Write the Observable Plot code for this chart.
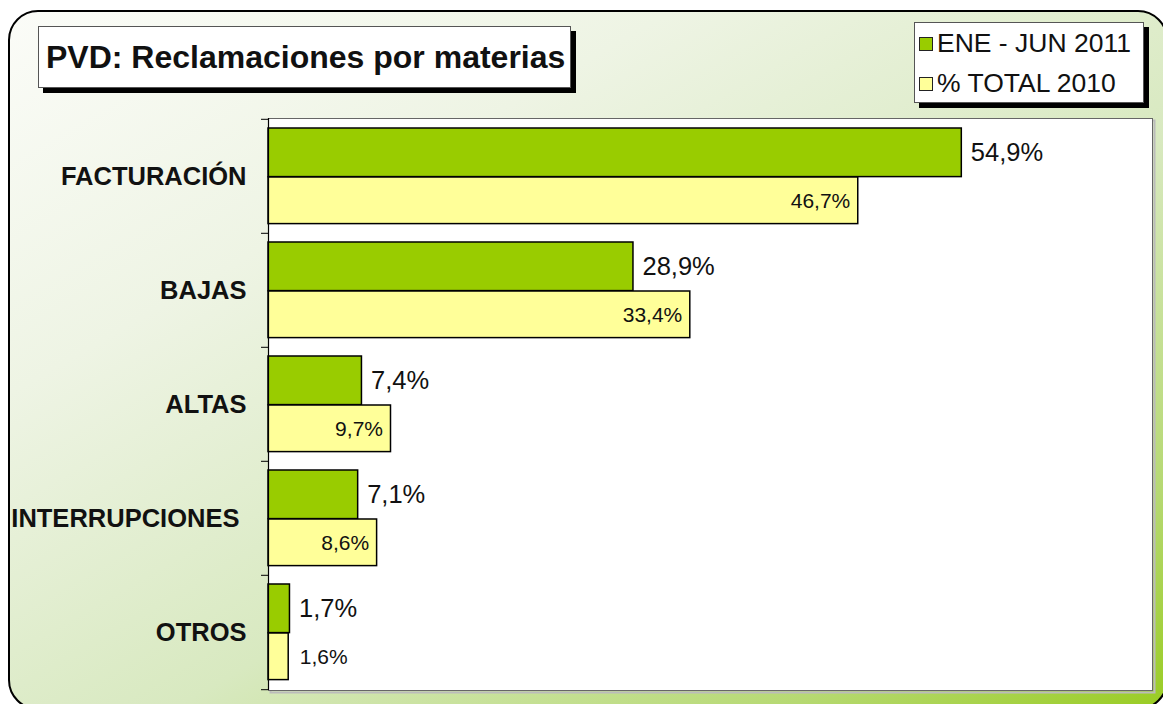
<!DOCTYPE html>
<html>
<head>
<meta charset="utf-8">
<script src="https://cdn.jsdelivr.net/npm/d3@7"></script>
<script src="https://cdn.jsdelivr.net/npm/@observablehq/plot@0.6"></script>
<style>
  html, body { margin: 0; padding: 0; background: #fff; }
  body { font-family: "Liberation Sans", Arial, sans-serif; }
  #wrap { position: relative; width: 1163px; height: 704px; overflow: hidden; }
  #bg { position: absolute; left: 8px; top: 10px; width: 1160px; height: 700px; box-sizing: border-box;
        border: 2px solid #000; border-radius: 30px;
        background: linear-gradient(150deg, #fbfcf8 0%, #eef4e4 28%, #d8e9c0 58%, #b6d972 84%, #99cc22 100%); }
  #chart { position: absolute; left: 0; top: 0; }
  .box { position: absolute; background: #fff; border: 1px solid #555; box-shadow: 5px 5px 0 #000; box-sizing: border-box; }
  #title { left: 38px; top: 26px; width: 533px; height: 62px; font-weight: bold; font-size: 32px; line-height: 60px; padding-left: 7px; color: #111; white-space: nowrap; }
  #legend { left: 914px; top: 22px; width: 230px; height: 81px; font-size: 26.5px; color: #111; }
  .item { position: absolute; left: 4px; white-space: nowrap; line-height: 30px; }
  .sw { display: inline-block; width: 12px; height: 12px; border: 1px solid #222; margin-right: 4px; vertical-align: 1px; }
</style>
</head>
<body>
<div id="wrap">
  <div id="bg"></div>
  <div id="chart"></div>
  <div id="title" class="box">PVD: Reclamaciones por materias</div>
  <div id="legend" class="box"></div>
</div>
<script>
const categories = ["FACTURACIÓN", "BAJAS", "ALTAS", "INTERRUPCIONES\u00a0", "OTROS"];
const seriesNames = ["ENE - JUN 2011", "% TOTAL 2010"];
const values2011 = [54.9, 28.9, 7.4, 7.1, 1.7];
const values2010 = [46.7, 33.4, 9.7, 8.6, 1.6];
const colors = ["#99cc00", "#ffff99"];

const data = categories.map((c, i) => ({cat: c, a: values2011[i], b: values2010[i]}));
const fmt = v => v.toFixed(1).replace(".", ",") + "%";
const font = "Liberation Sans, Arial, sans-serif";

const chart = Plot.plot({
  width: 1163,
  height: 704,
  marginLeft: 268,
  marginRight: 11,
  marginTop: 118,
  marginBottom: 14,
  style: {fontFamily: font, background: "transparent", overflow: "visible"},
  x: {domain: [0, 70], axis: null},
  y: {domain: categories, padding: 0, axis: null},
  marks: [
    Plot.frame({stroke: "#bbb", strokeWidth: 2, dx: 2, dy: 2}),
    Plot.frame({fill: "white", stroke: "#666", strokeWidth: 1}),
    Plot.barX(data, {y: "cat", x: "a", fill: colors[0], stroke: "#000", strokeWidth: 1.5, insetTop: 9, insetBottom: 56.4}),
    Plot.barX(data, {y: "cat", x: "b", fill: colors[1], stroke: "#000", strokeWidth: 1.5, insetTop: 58, insetBottom: 9.4}),
    Plot.ruleX([0], {stroke: "#000", strokeWidth: 1.2}),
    Plot.ruleY(categories, {y: d => d, x1: 0, x2: 0, insetLeft: -7, dy: -57.2, stroke: "#000"}),
    Plot.ruleY(categories.slice(-1), {y: d => d, x1: 0, x2: 0, insetLeft: -7, dy: 57.2, stroke: "#000"}),
    Plot.text(data, {y: "cat", x: "a", text: d => fmt(d.a), textAnchor: "start", dx: 9, dy: -23.5, fontSize: 25.5, fill: "#111"}),
    Plot.text(data, {filter: d => d.b >= 5, y: "cat", x: "b", text: d => fmt(d.b), textAnchor: "end", dx: -8, dy: 24.5, fontSize: 21, fill: "#111"}),
    Plot.text(data, {filter: d => d.b < 5, y: "cat", x: "b", text: d => fmt(d.b), textAnchor: "start", dx: 11, dy: 24.5, fontSize: 21, fill: "#111"}),
    Plot.text(categories, {y: d => d, frameAnchor: "left", dx: -22, textAnchor: "end", fontSize: 25.5, fontWeight: "bold", fill: "#111"})
  ]
});
document.getElementById("chart").appendChild(chart);

const legend = d3.select("#legend");
seriesNames.forEach((s, i) => {
  const it = legend.append("div").attr("class", "item").style("top", (5 + i * 40) + "px");
  it.append("span").attr("class", "sw").style("background", colors[i]);
  it.append("span").text(s);
});
</script>
</body>
</html>
